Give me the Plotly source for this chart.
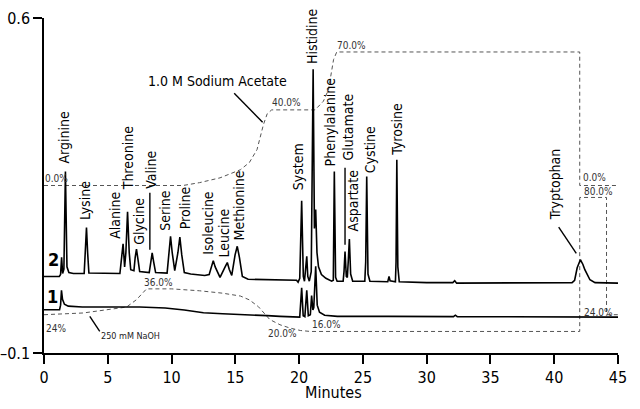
import plotly.graph_objects as go

FONT = "DejaVu Sans Condensed, Liberation Sans Narrow, Roboto Condensed, Roboto, sans-serif"

# ---- chromatogram trace 2 (time in minutes, signal in µC) ----
t2 = [0.0, 1.20, 1.30, 1.38, 1.46, 1.56, 1.68, 1.80, 1.95, 2.3, 3.15, 3.25, 3.33, 3.42, 3.52,
      5.95, 6.10, 6.20, 6.32, 6.42, 6.55, 6.68, 6.80, 7.05, 7.15, 7.25, 7.37, 7.50,
      8.25, 8.38, 8.48, 8.60, 8.75, 9.65, 9.80, 9.92, 10.05, 10.25, 10.50, 10.65, 10.80, 11.00,
      11.5, 12.6, 12.95, 13.12, 13.27, 13.42, 13.80, 14.20, 14.37, 14.52, 14.72, 14.98, 15.15,
      15.32, 15.55, 16.0, 18.0, 19.8, 19.92, 20.05, 20.20, 20.33, 20.42, 20.52, 20.60, 20.68,
      20.80, 20.95, 21.10, 21.20, 21.30, 21.40, 21.52, 21.75, 22.1, 22.55, 22.68, 22.76, 22.86,
      22.98, 23.45, 23.52, 23.60, 23.70, 23.78, 23.85, 23.94, 24.04, 24.2, 25.15, 25.22, 25.30,
      25.40, 25.55, 26.95, 27.05, 27.13, 27.55, 27.60, 27.66, 27.74, 27.85, 30.0, 32.05, 32.2,
      32.35, 40.0, 41.4, 41.6, 41.8, 42.05, 42.25, 42.4, 42.6, 42.8, 43.2, 45.0]
s2 = [0.060, 0.060, 0.064, 0.100, 0.066, 0.075, 0.279, 0.080, 0.068, 0.066, 0.066, 0.110, 0.162, 0.110, 0.067,
      0.066, 0.100, 0.128, 0.080, 0.110, 0.195, 0.110, 0.074, 0.072, 0.100, 0.117, 0.095, 0.070,
      0.068, 0.095, 0.109, 0.090, 0.068, 0.067, 0.115, 0.144, 0.110, 0.072, 0.110, 0.142, 0.105, 0.068,
      0.065, 0.062, 0.064, 0.082, 0.093, 0.080, 0.058, 0.080, 0.089, 0.075, 0.062, 0.105, 0.123,
      0.100, 0.060, 0.054, 0.053, 0.052, 0.048, 0.056, 0.218, 0.060, 0.050, 0.075, 0.102, 0.060,
      0.050, 0.070, 0.493, 0.160, 0.200, 0.110, 0.080, 0.064, 0.056, 0.050, 0.052, 0.279, 0.058,
      0.050, 0.050, 0.070, 0.112, 0.060, 0.058, 0.090, 0.138, 0.065, 0.050, 0.050, 0.090, 0.269,
      0.065, 0.050, 0.049, 0.060, 0.051, 0.049, 0.090, 0.304, 0.080, 0.049, 0.047, 0.047, 0.051,
      0.046, 0.046, 0.047, 0.052, 0.078, 0.095, 0.085, 0.074, 0.062, 0.053, 0.047, 0.046]

# ---- chromatogram trace 1 ----
t1 = [0.0, 1.22, 1.30, 1.37, 1.45, 1.60, 1.9, 3.0, 7.5, 9.5, 11.0, 12.5, 14.0, 16.5, 17.5, 18.5,
      19.95, 20.05, 20.20, 20.32, 20.45, 20.60, 20.72, 20.88, 20.98, 21.08, 21.15, 21.30, 21.42,
      21.6, 22.0, 23.0, 27.0, 32.1, 32.25, 32.4, 45.0]
s1 = [-0.0095, -0.0095, 0.000, 0.031, 0.012, 0.002, -0.002, -0.004, -0.004, -0.006, -0.010, -0.016,
      -0.018, -0.020, -0.022, -0.0235, -0.0235, -0.025, 0.036, -0.022, -0.024, 0.031, -0.022, -0.020,
      0.020, -0.010, -0.005, 0.081, 0.000, -0.015, -0.021, -0.0235, -0.0235, -0.024, -0.021, -0.024, -0.025]

# ---- gradient profiles drawn onto the µC axis ----
acet_t = [0, 10.9, 12.2, 13.8, 15.4, 16.1, 16.7, 17.2, 17.5, 17.85, 21.25, 21.9, 22.3, 22.7, 22.95, 42.0, 42.0, 45.0]
acet_y = [0.25, 0.25, 0.256, 0.266, 0.283, 0.298, 0.325, 0.377, 0.40, 0.408, 0.408, 0.426, 0.45, 0.513, 0.529, 0.529, 0.25, 0.25]

naoh_t = [0, 3.06, 6.47, 7.25, 8.04, 10.0, 12.2, 14.0, 15.4, 16.1, 16.8, 17.2, 17.7, 18.5, 19.3, 20.1, 20.9,
          42.0, 42.0, 44.1, 44.1, 45.0]
naoh_y = [-0.020, -0.0164, -0.004, 0.0114, 0.034, 0.034, 0.030, 0.025, 0.019, 0.011, -0.003, -0.016, -0.030,
          -0.041, -0.048, -0.053, -0.055, -0.055, 0.225, 0.225, -0.020, -0.020]

# ---- peak labels ----
peak_names = ["Arginine", "Lysine", "Alanine", "Threonine", "Glycine", "Valine", "Serine", "Proline",
              "Isoleucine", "Leucine", "Methionine", "System", "Histidine", "Phenylalanine", "Glutamate",
              "Aspartate", "Cystine", "Tyrosine", "Tryptophan"]
label_t = [1.60, 3.23, 5.55, 6.59, 7.49, 8.38, 9.51, 11.08, 12.85, 14.11, 15.36, 19.87, 21.05, 22.43,
           23.86, 24.19, 25.57, 27.66, 40.13]
label_y = [0.2935, 0.175, 0.137, 0.238, 0.124, 0.241, 0.154, 0.156, 0.103, 0.0985, 0.133, 0.238, 0.502,
           0.287, 0.300, 0.151, 0.273, 0.311, 0.175]

# ---- gradient percentage labels ----
pct_text = ["0.0%", "40.0%", "70.0%", "0.0%", "80.0%", "24.0%", "24%", "36.0%", "20.0%", "16.0%"]
pct_t = [0.0, 19.05, 24.07, 42.18, 42.28, 42.26, 0.97, 9.0, 18.66, 22.11]
pct_y = [0.264, 0.423, 0.542, 0.2657, 0.2377, -0.0164, -0.0498, 0.0476, -0.0596, -0.0408]
pct_anchor = ["left", "center", "center", "left", "left", "left", "center", "center", "center", "center"]

# ---- axis ticks ----
x_ticks = [0, 5, 10, 15, 20, 25, 30, 35, 40, 45]
y_ticks = [-0.1, 0.6]
y_ticktext = ["\u20130.1", "0.6"]

fig = go.Figure()
fig.add_trace(go.Scatter(x=acet_t, y=acet_y, mode="lines",
                         line=dict(color="#555555", width=1, dash="4px,3px"), hoverinfo="skip"))
fig.add_trace(go.Scatter(x=naoh_t, y=naoh_y, mode="lines",
                         line=dict(color="#555555", width=1, dash="4px,3px"), hoverinfo="skip"))
fig.add_trace(go.Scatter(x=t1, y=s1, mode="lines", line=dict(color="black", width=1.6)))
fig.add_trace(go.Scatter(x=t2, y=s2, mode="lines", line=dict(color="black", width=1.6)))

ann = []
for name, x, y in zip(peak_names, label_t, label_y):
    ann.append(dict(x=x, y=y, xref="x", yref="y", text=name, showarrow=False, textangle=-90,
                    xanchor="center", yanchor="bottom", borderpad=0,
                    font=dict(family=FONT, size=14, color="black")))
for txt, x, y, a in zip(pct_text, pct_t, pct_y, pct_anchor):
    ann.append(dict(x=x, y=y, xref="x", yref="y", text=txt, showarrow=False, xanchor=a,
                    yanchor="middle", borderpad=0, font=dict(family=FONT, size=10, color="#333333")))

ann += [
    dict(x=13.63, y=0.4675, xref="x", yref="y", text="1.0 M Sodium Acetate", showarrow=False,
         font=dict(family=FONT, size=14, color="black")),
    dict(x=6.81, y=-0.0653, xref="x", yref="y", text="250 mM NaOH", showarrow=False,
         font=dict(family=FONT, size=9, color="#222222")),
    dict(x=0.71, y=0.095, xref="x", yref="y", text="<b>2</b>", showarrow=False,
         font=dict(family=FONT, size=18, color="black")),
    dict(x=0.64, y=0.018, xref="x", yref="y", text="<b>1</b>", showarrow=False,
         font=dict(family=FONT, size=18, color="black")),
    dict(x=-1.32, y=0.25, xref="x", yref="y", text="µC", showarrow=False,
         font=dict(family=FONT, size=17, color="black")),
    dict(x=22.7, y=-0.1185, xref="x", yref="paper", text="Minutes", showarrow=False,
         yanchor="middle", font=dict(family=FONT, size=16, color="black")),
]

leaders = [
    (14.91, 0.443, 17.14, 0.382),
    (3.59, -0.0235, 4.37, -0.0548),
    (40.35, 0.163, 41.73, 0.108),
    (8.30, 0.235, 8.30, 0.116),
    (23.60, 0.287, 23.60, 0.126),
]
shapes = [dict(type="line", xref="x", yref="y", x0=a, y0=b, x1=c, y1=d,
               line=dict(color="black", width=1.4)) for a, b, c, d in leaders]

fig.update_layout(
    width=640, height=409,
    margin=dict(l=44, r=22, t=18, b=56, autoexpand=False),
    paper_bgcolor="white", plot_bgcolor="white",
    showlegend=False,
    font=dict(family=FONT, size=16, color="black"),
    annotations=ann, shapes=shapes,
    xaxis=dict(range=[0, 45], tickvals=x_ticks, ticks="outside", ticklen=9,
               tickwidth=1.5, tickcolor="black", showline=True, linecolor="black", linewidth=1.5,
               showgrid=False, zeroline=False, automargin=False, tickfont=dict(family=FONT, size=16)),
    yaxis=dict(range=[-0.1, 0.6], tickvals=y_ticks, ticktext=y_ticktext,
               ticks="outside", ticklen=9, tickwidth=1.5, tickcolor="black", showline=True,
               linecolor="black", linewidth=1.5, showgrid=False, zeroline=False, automargin=False,
               tickfont=dict(family=FONT, size=16)),
)

fig.write_html("out.html", config={"displayModeBar": False},
               post_script="document.body.style.margin='0';")
